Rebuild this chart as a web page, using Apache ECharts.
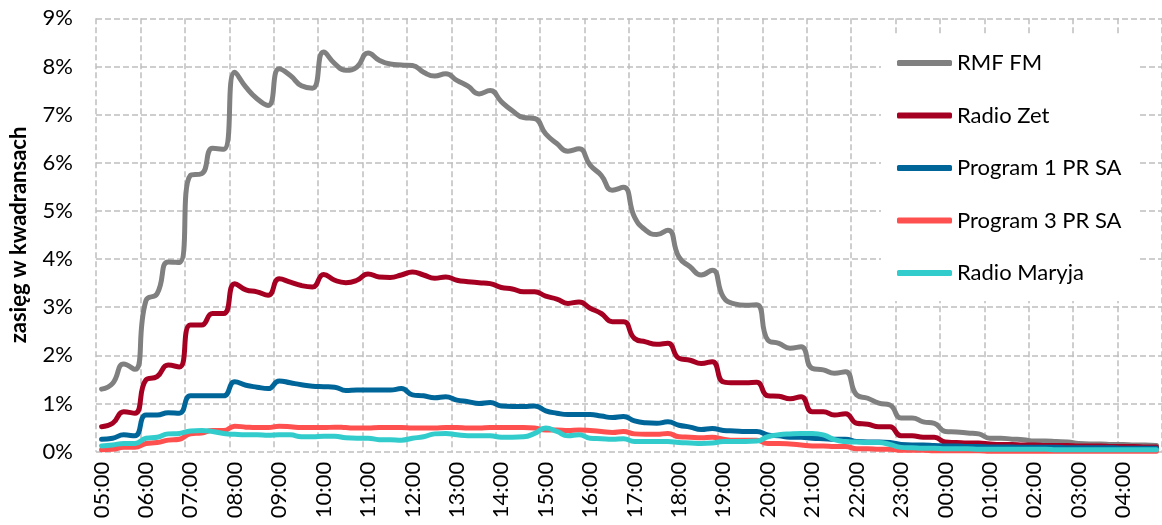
<!DOCTYPE html>
<html>
<head>
<meta charset="utf-8">
<script src="https://cdn.jsdelivr.net/npm/echarts@6/dist/echarts.min.js"></script>
<style>
html,body{margin:0;padding:0;background:#fff;}
#chart{width:1162px;height:525px;}
</style>
</head>
<body>
<div id="chart"></div>
<script>
const categories = [
'05:00','05:15','05:30','05:45','06:00','06:15','06:30','06:45','07:00','07:15','07:30','07:45',
'08:00','08:15','08:30','08:45','09:00','09:15','09:30','09:45','10:00','10:15','10:30','10:45',
'11:00','11:15','11:30','11:45','12:00','12:15','12:30','12:45','13:00','13:15','13:30','13:45',
'14:00','14:15','14:30','14:45','15:00','15:15','15:30','15:45','16:00','16:15','16:30','16:45',
'17:00','17:15','17:30','17:45','18:00','18:15','18:30','18:45','19:00','19:15','19:30','19:45',
'20:00','20:15','20:30','20:45','21:00','21:15','21:30','21:45','22:00','22:15','22:30','22:45',
'23:00','23:15','23:30','23:45','00:00','00:15','00:30','00:45','01:00','01:15','01:30','01:45',
'02:00','02:15','02:30','02:45','03:00','03:15','03:30','03:45','04:00','04:15','04:30','04:45'
];
const seriesNames = ['RMF FM','Radio Zet','Program 1 PR SA','Program 3 PR SA','Radio Maryja'];
const rmfFm = [
1.3,1.42,1.82,1.71,3.14,3.28,3.94,3.93,5.74,5.77,
6.3,6.28,7.88,7.57,7.33,7.19,7.95,7.81,7.6,7.55,
8.3,8.06,7.92,7.99,8.28,8.13,8.05,8.03,8.02,7.88,
7.8,7.85,7.71,7.59,7.43,7.5,7.27,7.08,6.94,6.92,
6.6,6.4,6.24,6.29,5.95,5.74,5.43,5.49,4.87,4.6,
4.51,4.6,4.04,3.84,3.67,3.77,3.21,3.07,3.04,3.05,
2.32,2.25,2.15,2.18,1.73,1.7,1.63,1.66,1.18,1.11,
1.01,0.97,0.7,0.7,0.62,0.59,0.42,0.41,0.39,0.37,
0.28,0.28,0.26,0.25,0.22,0.22,0.21,0.2,0.17,0.16,
0.16,0.15,0.15,0.14,0.14,0.13
];
const radioZet = [
0.52,0.59,0.83,0.8,1.49,1.56,1.8,1.76,2.63,2.63,
2.87,2.87,3.49,3.36,3.32,3.25,3.59,3.52,3.45,3.42,
3.68,3.56,3.51,3.56,3.69,3.63,3.62,3.67,3.73,3.67,
3.6,3.63,3.56,3.53,3.51,3.49,3.41,3.38,3.32,3.32,
3.23,3.17,3.08,3.11,2.98,2.87,2.7,2.7,2.35,2.28,
2.23,2.25,1.94,1.9,1.83,1.87,1.45,1.43,1.43,1.44,
1.16,1.15,1.1,1.14,0.83,0.83,0.76,0.79,0.59,0.57,
0.52,0.52,0.33,0.33,0.3,0.3,0.2,0.19,0.18,0.18,
0.16,0.15,0.15,0.14,0.14,0.13,0.13,0.13,0.12,0.12,
0.12,0.11,0.11,0.11,0.1,0.1
];
const program1 = [
0.26,0.28,0.35,0.33,0.76,0.76,0.81,0.8,1.16,1.16,
1.16,1.16,1.45,1.38,1.34,1.31,1.47,1.43,1.39,1.36,
1.35,1.34,1.27,1.28,1.28,1.28,1.28,1.31,1.18,1.16,
1.12,1.14,1.07,1.04,1.0,1.02,0.95,0.94,0.94,0.95,
0.85,0.8,0.77,0.77,0.77,0.74,0.71,0.73,0.64,0.6,
0.59,0.62,0.55,0.51,0.46,0.48,0.44,0.43,0.42,0.42,
0.35,0.33,0.3,0.3,0.28,0.27,0.26,0.26,0.21,0.2,
0.2,0.19,0.15,0.14,0.14,0.13,0.12,0.12,0.11,0.11,
0.1,0.1,0.1,0.09,0.09,0.09,0.09,0.08,0.08,0.08,
0.08,0.08,0.07,0.07,0.07,0.07
];
const program3 = [
0.04,0.05,0.09,0.09,0.17,0.19,0.24,0.26,0.37,0.39,
0.44,0.44,0.53,0.51,0.5,0.5,0.53,0.52,0.5,0.5,
0.5,0.51,0.5,0.49,0.49,0.5,0.5,0.5,0.49,0.49,
0.49,0.5,0.5,0.49,0.49,0.5,0.5,0.5,0.5,0.49,
0.45,0.45,0.44,0.45,0.44,0.42,0.4,0.42,0.37,0.36,
0.36,0.38,0.31,0.3,0.29,0.3,0.26,0.24,0.24,0.24,
0.17,0.17,0.16,0.14,0.12,0.12,0.11,0.11,0.06,0.06,
0.05,0.05,0.03,0.03,0.03,0.02,0.02,0.02,0.02,0.02,
0.01,0.01,0.01,0.01,0.01,0.01,0.01,0.01,0.01,0.01,
0.01,0.01,0.01,0.01,0.01,0.01
];
const radioMaryja = [
0.12,0.14,0.17,0.17,0.28,0.3,0.37,0.38,0.43,0.44,
0.42,0.38,0.36,0.35,0.35,0.34,0.35,0.35,0.31,0.31,
0.32,0.32,0.29,0.28,0.28,0.25,0.25,0.24,0.28,0.31,
0.37,0.38,0.35,0.33,0.33,0.33,0.3,0.3,0.31,0.38,
0.49,0.42,0.33,0.35,0.28,0.27,0.26,0.27,0.21,0.21,
0.21,0.21,0.19,0.18,0.17,0.18,0.21,0.21,0.21,0.22,
0.31,0.35,0.37,0.38,0.38,0.35,0.25,0.21,0.2,0.19,
0.19,0.15,0.09,0.08,0.07,0.07,0.06,0.06,0.06,0.05,
0.05,0.05,0.05,0.05,0.05,0.05,0.04,0.04,0.04,0.04,
0.04,0.04,0.04,0.04,0.04,0.04
];
const yTicks = [0,1,2,3,4,5,6,7,8,9];
const colors = ['#808080','#A50021','#00669A','#FF5050','#33CCCC'];
const allData = [rmfFm, radioZet, program1, program3, radioMaryja];

const FONT = 'Lato';
const gridLine = {show:true, lineStyle:{color:'#BFBFBF', width:1.5, type:[6,3]}};

const chart = echarts.init(document.getElementById('chart'), null, {renderer:'canvas'});
chart.setOption({
  backgroundColor:'#ffffff',
  animation:false,
  textStyle:{fontFamily:FONT},
  grid:{left:93, top:18.3, width:1077, height:433.4, containLabel:false},
  legend:{
    orient:'vertical', left:881, top:35,
    backgroundColor:'#ffffff',
    padding:[17,16,17,16],
    itemWidth:55, itemHeight:6, itemGap:30.5,
    icon:'roundRect',
    textStyle:{fontFamily:FONT, fontSize:22, color:'#000'},
    data:seriesNames
  },
  xAxis:{
    type:'category', data:categories, boundaryGap:true,
    axisLine:{show:false}, axisTick:{show:false},
    axisLabel:{interval:3, rotate:90, margin:10, fontFamily:FONT, fontSize:22, color:'#000'},
    splitLine:Object.assign({interval:3}, gridLine)
  },
  yAxis:{
    type:'value', min:yTicks[0], max:yTicks[yTicks.length-1], interval:1,
    axisLine:{show:false}, axisTick:{show:false},
    axisLabel:{formatter:'{value}%', margin:23, fontFamily:FONT, fontSize:22, color:'#000'},
    splitLine:gridLine,
    name:'zasięg w kwadransach', nameLocation:'middle', nameGap:66,
    nameTextStyle:{fontFamily:FONT, fontWeight:'bold', fontSize:22, color:'#000'}
  },
  series: seriesNames.map((n,i)=>({
    name:n, type:'line', data:allData[i], smooth:0.5, symbol:'none', showSymbol:false,
    color:colors[i],
    lineStyle:{width:5, color:colors[i], cap:'round', join:'round'},
    itemStyle:{color:colors[i]}
  }))
});
</script>
</body>
</html>
